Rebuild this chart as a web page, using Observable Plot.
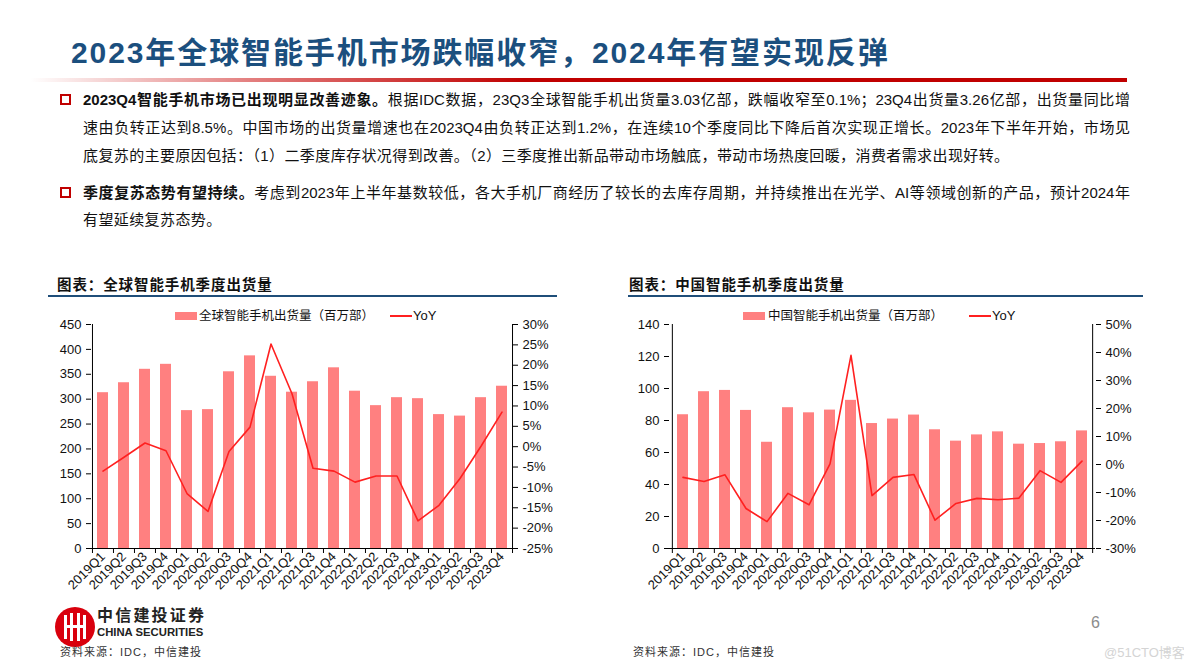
<!DOCTYPE html>
<html><head><meta charset="utf-8">
<script src="https://cdn.jsdelivr.net/npm/d3@7"></script>
<script src="https://cdn.jsdelivr.net/npm/@observablehq/plot@0.6"></script>
<style>
body{margin:0;background:#fff;}
#page{position:relative;width:1184px;height:666px;overflow:hidden;background:#fff;font-family:"Liberation Sans","Noto Sans CJK SC",sans-serif;color:#111;}
.abs{position:absolute;white-space:nowrap;}
#title{left:71px;top:34px;font-size:30px;font-weight:bold;color:#1B4F7E;line-height:38px;letter-spacing:1.9px;}
#redline{position:absolute;left:30px;top:78px;width:1097px;height:4px;background:linear-gradient(to right,rgba(200,0,0,0) 0%,rgba(200,0,0,0.5) 20%,#C00000 45%,#C00000 100%);}
.tl{position:absolute;left:83px;width:1047px;font-size:15px;line-height:20px;color:#111;}
.just{text-align:justify;text-align-last:justify;}
.bullet{position:absolute;left:60px;width:7px;height:7px;border:2px solid #C00000;}
.ctitle{position:absolute;font-size:14.5px;font-weight:bold;line-height:20px;letter-spacing:0.9px;color:#111;}
.cline{position:absolute;height:2px;background:#1F4E79;}
.chart svg{position:absolute;}
.lg{position:absolute;font-size:12.5px;line-height:16px;white-space:nowrap;color:#111;}
.swatch{position:absolute;height:8px;background:#FF8080;}
.lswatch{position:absolute;height:2px;background:#FF2020;}
.src{position:absolute;font-size:11px;line-height:14px;letter-spacing:1px;color:#333;white-space:nowrap;}
</style></head>
<body>
<div id="page">
  <div id="title" class="abs">2023年全球智能手机市场跌幅收窄，2024年有望实现反弹</div>
  <div id="redline"></div>

  <div class="bullet" style="top:94px"></div>
  <div class="tl just" style="top:90px"><b>2023Q4智能手机市场已出现明显改善迹象。</b>根据IDC数据，23Q3全球智能手机出货量3.03亿部，跌幅收窄至0.1%；23Q4出货量3.26亿部，出货量同比增</div>
  <div class="tl just" style="top:118px">速由负转正达到8.5%。中国市场的出货量增速也在2023Q4由负转正达到1.2%，在连续10个季度同比下降后首次实现正增长。2023年下半年开始，市场见</div>
  <div class="tl" style="top:146px;letter-spacing:0.4px">底复苏的主要原因包括：（1）二季度库存状况得到改善。（2）三季度推出新品带动市场触底，带动市场热度回暖，消费者需求出现好转。</div>
  <div class="bullet" style="top:187px"></div>
  <div class="tl just" style="top:183px"><b>季度复苏态势有望持续。</b>考虑到2023年上半年基数较低，各大手机厂商经历了较长的去库存周期，并持续推出在光学、AI等领域创新的产品，预计2024年</div>
  <div class="tl" style="top:210px;letter-spacing:0.4px">有望延续复苏态势。</div>

  <div class="ctitle" style="left:57px;top:275px">图表：全球智能手机季度出货量</div>
  <div class="cline" style="left:48px;top:295px;width:509px"></div>
  <div class="ctitle" style="left:629px;top:275px">图表：中国智能手机季度出货量</div>
  <div class="cline" style="left:628px;top:295px;width:515px"></div>

  <div class="swatch" style="left:175px;top:312px;width:22px"></div>
  <div class="lg" style="left:199px;top:308px">全球智能手机出货量（百万部）</div>
  <div class="lswatch" style="left:390px;top:315px;width:22px"></div>
  <div class="lg" style="left:413px;top:308px;font-size:13px;font-family:'Liberation Sans'">YoY</div>

  <div class="swatch" style="left:743px;top:312px;width:22px"></div>
  <div class="lg" style="left:768px;top:308px">中国智能手机出货量（百万部）</div>
  <div class="lswatch" style="left:969px;top:315px;width:22px"></div>
  <div class="lg" style="left:992px;top:308px;font-size:13px;font-family:'Liberation Sans'">YoY</div>

  <div id="c1" class="chart"></div>
  <div id="c2" class="chart"></div>

  <div style="position:absolute;left:55px;top:607px;width:40px;height:40px;border-radius:50%;background:#D9000D;overflow:hidden">
    <div style="position:absolute;left:9px;top:8px;width:3px;height:24px;background:#fff"></div>
    <div style="position:absolute;left:15px;top:6px;width:3px;height:28px;background:#fff"></div>
    <div style="position:absolute;left:22px;top:6px;width:3px;height:28px;background:#fff"></div>
    <div style="position:absolute;left:28px;top:8px;width:3px;height:24px;background:#fff"></div>
    <div style="position:absolute;left:12px;top:18px;width:16px;height:3px;background:#fff"></div>
  </div>
  <div class="abs" style="left:97px;top:606px;font-size:16px;line-height:20px;font-weight:bold;letter-spacing:2.2px;color:#222">中信建投证券</div>
  <div class="abs" style="left:97px;top:625px;font-size:11.3px;line-height:14px;font-weight:bold;color:#222">CHINA SECURITIES</div>

  <div class="src" style="left:60px;top:645px">资料来源：IDC，中信建投</div>
  <div class="src" style="left:633px;top:645px">资料来源：IDC，中信建投</div>
  <div class="abs" style="left:1091px;top:614px;font-size:16px;line-height:18px;color:#8c8c8c">6</div>
  <div class="abs" style="left:1104px;top:645px;font-size:13px;line-height:16px;color:#d4d4d4">@51CTO博客</div>
</div>
<script>
const categories = ["2019Q1","2019Q2","2019Q3","2019Q4","2020Q1","2020Q2","2020Q3","2020Q4","2021Q1","2021Q2","2021Q3","2021Q4","2022Q1","2022Q2","2022Q3","2022Q4","2023Q1","2023Q2","2023Q3","2023Q4"];
const globalShipments = [313, 333, 360, 370, 277, 279, 355, 387, 346, 314, 335, 363, 316, 287, 303, 301, 269, 266, 303, 326];
const globalYoY = [-6.0, -2.6, 0.9, -1.0, -11.5, -15.9, -1.2, 4.8, 25.2, 13.0, -5.3, -6.0, -8.7, -7.2, -7.2, -18.2, -14.4, -7.8, 0.1, 8.5];
const chinaShipments = [83.6, 98.0, 98.8, 86.3, 66.4, 88.0, 84.8, 86.5, 92.6, 78.1, 80.9, 83.4, 74.2, 67.1, 71.0, 72.9, 65.2, 65.6, 66.7, 73.5];
const chinaYoY = [-4.6, -6.1, -3.7, -15.7, -20.4, -10.3, -14.4, 0.2, 39.0, -11.1, -4.6, -3.6, -19.9, -13.9, -12.1, -12.6, -12.0, -2.2, -6.4, 1.2];
const globalLeftTicks = [0, 50, 100, 150, 200, 250, 300, 350, 400, 450];
const globalRightTicks = [-25, -20, -15, -10, -5, 0, 5, 10, 15, 20, 25, 30];
const chinaLeftTicks = [0, 20, 40, 60, 80, 100, 120, 140];
const chinaRightTicks = [-30, -20, -10, 0, 10, 20, 30, 40, 50];

function makeChart(ship, yoy, leftTicks, rightTicks, width) {
  const leftMax = leftTicks[leftTicks.length - 1];
  const rMin = rightTicks[0], rMax = rightTicks[rightTicks.length - 1];
  const toLeft = v => (v - rMin) / (rMax - rMin) * leftMax;
  const fromLeft = y => y / leftMax * (rMax - rMin) + rMin;
  const data = categories.map((q, i) => ({q, ship: ship[i], yoy: yoy[i]}));
  const mL = 45, mR = 45;
  const step = (width - mL - mR) / categories.length;
  const last = categories[categories.length - 1];
  return Plot.plot({
    width, height: 284, marginTop: 10, marginBottom: 50, marginLeft: mL, marginRight: mR,
    style: {fontFamily: "'Liberation Sans', Arial, sans-serif", fontSize: "13px", color: "#111", background: "transparent", overflow: "visible"},
    x: {domain: categories, paddingInner: 0.5, paddingOuter: 0.25, label: null},
    y: {domain: [0, leftMax], label: null},
    marks: [
      Plot.barY(data, {x: "q", y: "ship", fill: "#FF8080"}),
      Plot.lineY(data, {x: "q", y: d => toLeft(d.yoy), stroke: "#FF2020", strokeWidth: 1.6}),
      Plot.ruleY([0], {stroke: "#000"}),
      Plot.ruleX([categories[0]], {dx: -step / 2, stroke: "#000"}),
      Plot.ruleX([last], {dx: step / 2, stroke: "#000"}),
      Plot.axisY(leftTicks, {anchor: "left", tickSize: 5, tickPadding: 5, label: null, stroke: "#000"}),
      Plot.axisY(rightTicks.map(toLeft), {anchor: "right", tickSize: 5, tickPadding: 5, label: null, stroke: "#000",
        tickFormat: d => Math.round(fromLeft(d)) + "%"}),
      Plot.axisX(categories, {anchor: "bottom", tickSize: 5, tickFormat: () => "", dx: -step / 2, label: null, stroke: "#000"}),
      Plot.axisX([last], {anchor: "bottom", tickSize: 5, tickFormat: () => "", dx: step / 2, label: null, stroke: "#000"}),
      Plot.axisX(categories, {anchor: "bottom", tickSize: 0, tickPadding: 6, tickRotate: -45, label: null, fontSize: 13})
    ]
  });
}

const s1 = makeChart(globalShipments, globalYoY, globalLeftTicks, globalRightTicks, 511);
s1.style.left = "46px"; s1.style.top = "314px"; s1.style.position = "absolute";
document.getElementById("c1").appendChild(s1);
const s2 = makeChart(chinaShipments, chinaYoY, chinaLeftTicks, chinaRightTicks, 516);
s2.style.left = "624px"; s2.style.top = "314px"; s2.style.position = "absolute";
document.getElementById("c2").appendChild(s2);
</script>
</body></html>
